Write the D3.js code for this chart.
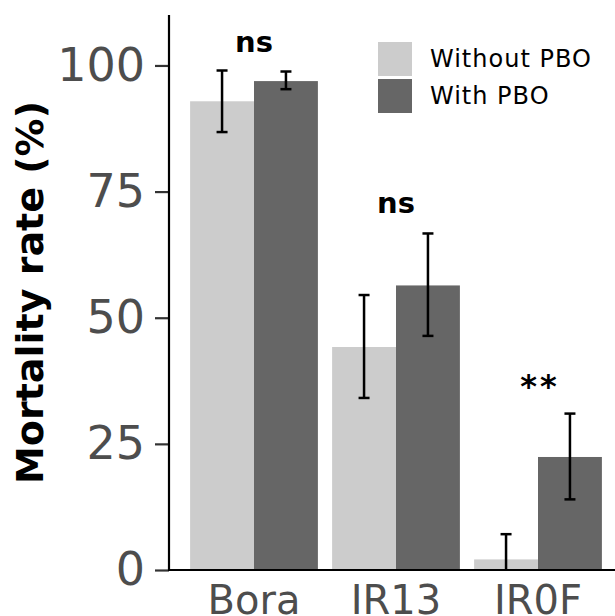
<!DOCTYPE html>
<html>
<head>
<meta charset="utf-8">
<script src="https://cdn.jsdelivr.net/npm/d3@7"></script>
<style>
  html, body { margin: 0; padding: 0; background: #fff; }
  svg { display: block; }
</style>
</head>
<body>
<svg id="chart" width="615" height="616"></svg>
<script>
const categories = ["Bora", "IR13", "IR0F"];
const groups = ["Without PBO", "With PBO"];
const withoutPBO = [92.9, 44.2, 2.1];
const withoutLow = [86.8, 34.1, 0];
const withoutHigh = [99.0, 54.5, 7.1];
const withPBO = [96.9, 56.4, 22.4];
const withLow = [95.3, 46.4, 14.0];
const withHigh = [98.8, 66.7, 31.0];
const sigLabels = ["ns", "ns", "**"];
const sigY = [102.6, 70.7, 34.3];
const yTicks = [0, 25, 50, 75, 100];
const colors = ["#cccccc", "#666666"];

const svg = d3.select("#chart");
const font = "DejaVu Sans, Verdana, sans-serif";

const y = d3.scaleLinear().domain([0, 110]).range([570, 15]);
const x = d3.scaleBand().domain(categories).range([183, 609]).paddingInner(0.1).paddingOuter(0.05);
const xs = d3.scaleBand().domain(groups).range([0, x.bandwidth()]);

const rows = [];
categories.forEach((c, i) => {
  rows.push({cat: c, grp: groups[0], v: withoutPBO[i], lo: withoutLow[i], hi: withoutHigh[i]});
  rows.push({cat: c, grp: groups[1], v: withPBO[i], lo: withLow[i], hi: withHigh[i]});
});

// bars
svg.append("g").selectAll("rect").data(rows).join("rect")
  .attr("x", d => x(d.cat) + xs(d.grp))
  .attr("width", xs.bandwidth())
  .attr("y", d => y(d.v))
  .attr("height", d => y(0) - y(d.v))
  .attr("fill", d => colors[groups.indexOf(d.grp)]);

// error bars
const eb = svg.append("g").attr("stroke", "#000").attr("stroke-width", 2.5);
rows.forEach(d => {
  const cx = x(d.cat) + xs(d.grp) + xs.bandwidth() / 2;
  eb.append("line").attr("x1", cx).attr("x2", cx).attr("y1", y(d.lo)).attr("y2", y(d.hi));
  if (d.lo > 0) eb.append("line").attr("x1", cx - 5.5).attr("x2", cx + 5.5).attr("y1", y(d.lo)).attr("y2", y(d.lo));
  eb.append("line").attr("x1", cx - 5.5).attr("x2", cx + 5.5).attr("y1", y(d.hi)).attr("y2", y(d.hi));
});

// significance labels
svg.append("g").selectAll("text").data(categories).join("text")
  .attr("x", (d, i) => x(d) + x.bandwidth() / 2 + (sigLabels[i] === "**" ? 2 : 0))
  .attr("y", (d, i) => y(sigY[i]))
  .attr("text-anchor", "middle")
  .attr("font-family", font)
  .attr("font-weight", "bold")
  .attr("font-size", (d, i) => sigLabels[i] === "**" ? 32 : 29)
  .attr("letter-spacing", (d, i) => sigLabels[i] === "**" ? 3 : 0)
  .attr("fill", "#000")
  .text((d, i) => sigLabels[i]);

// y axis
const yAxis = svg.append("g").attr("transform", "translate(169,0)")
  .call(d3.axisLeft(y).tickValues(yTicks).tickSize(14).tickPadding(10));
yAxis.select(".domain").remove();
yAxis.append("line").attr("x1", 0).attr("x2", 0).attr("y1", y(110)).attr("y2", y(0) + 1)
  .attr("stroke", "#000").attr("stroke-width", 2.2);
yAxis.selectAll(".tick line").attr("stroke", "#333").attr("stroke-width", 2.2);
yAxis.selectAll(".tick text").attr("font-family", font).attr("font-size", 46).attr("fill", "#4d4d4d");

// x axis
const xAxis = svg.append("g").attr("transform", "translate(0,570)")
  .call(d3.axisBottom(x).tickSize(0).tickPadding(10));
xAxis.select(".domain").remove();
xAxis.append("line").attr("x1", 168).attr("x2", 615).attr("y1", 0).attr("y2", 0)
  .attr("stroke", "#000").attr("stroke-width", 2.2);
xAxis.selectAll(".tick text").attr("font-family", font).attr("font-size", 40).attr("fill", "#4d4d4d")
  .attr("dy", null).attr("y", 44);

// y title
svg.append("text")
  .attr("transform", "translate(43," + ((y(0) + y(110)) / 2) + ") rotate(-90)")
  .attr("text-anchor", "middle")
  .attr("font-family", font)
  .attr("font-weight", "bold")
  .attr("font-size", 38)
  .attr("fill", "#000")
  .text("Mortality rate (%)");

// legend
const leg = svg.append("g").attr("transform", "translate(378,42)");
groups.forEach((g, i) => {
  leg.append("rect").attr("x", 0).attr("y", i * 37).attr("width", 34).attr("height", 34).attr("fill", colors[i]);
  leg.append("text").attr("x", 52).attr("y", i * 37 + 25)
    .attr("font-family", font).attr("font-size", 24).attr("letter-spacing", 1)
    .attr("fill", "#000").text(g);
});
</script>
</body>
</html>
